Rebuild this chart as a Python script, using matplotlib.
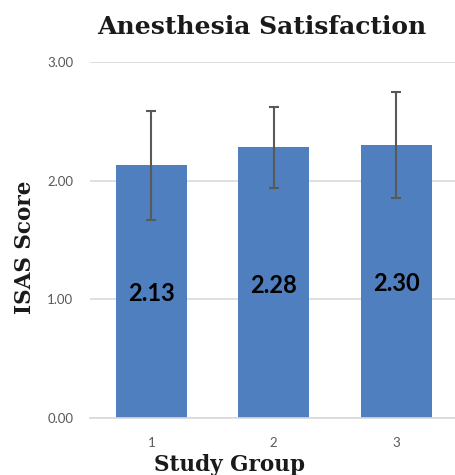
import matplotlib
matplotlib.use("Agg")
import matplotlib.pyplot as plt

groups = ["1", "2", "3"]
means = [2.13, 2.28, 2.30]
sds = [0.46, 0.34, 0.45]
value_labels = ["2.13", "2.28", "2.30"]
y_ticks = [0.0, 1.0, 2.0, 3.0]
y_tick_labels = ["0.00", "1.00", "2.00", "3.00"]

W, H = 455, 475
fig = plt.figure(figsize=(W / 100, H / 100), dpi=100)
ax = fig.add_axes([90 / W, (H - 418) / H, 367.5 / W, 356 / H])

x = list(range(len(groups)))
ax.bar(x, means, width=0.58, color="#4F7FBE", zorder=2)
ax.errorbar(x, means, yerr=sds, fmt="none", ecolor="#595959",
            elinewidth=1.5, capsize=3.5, capthick=1.5, zorder=3)

for xi, m, lab in zip(x, means, value_labels):
    ax.text(xi, m / 2 - 0.02, lab, ha="center", va="center",
            fontsize=17, fontweight="bold", color="black",
            family=["Lato", "DejaVu Sans"], zorder=4)

ax.set_xlim(-0.5, 2.5)
ax.set_ylim(0, 3)
ax.set_xticks(x)
ax.set_xticklabels(groups)
ax.set_yticks(y_ticks)
ax.set_yticklabels(y_tick_labels)
for lbl in ax.get_xticklabels() + ax.get_yticklabels():
    lbl.set_family(["Lato", "DejaVu Sans"])
    lbl.set_fontsize(9.5)
    lbl.set_color("#595959")
ax.tick_params(axis="both", length=0)
ax.tick_params(axis="y", pad=12)
ax.tick_params(axis="x", pad=14)

ax.yaxis.grid(True, color="#D9D9D9", linewidth=1.2, zorder=0)
ax.set_axisbelow(True)
for s in ["top", "right", "left"]:
    ax.spines[s].set_visible(False)
ax.spines["bottom"].set_color("#D9D9D9")
ax.spines["bottom"].set_linewidth(1.2)

serif = ["DejaVu Serif"]
fig.text(262 / W, 1 - 27 / H, "Anesthesia Satisfaction", ha="center", va="center",
         fontsize=18, fontweight="bold", family=serif, color="#1a1a1a")
fig.text(25 / W, 1 - 247 / H, "ISAS Score", ha="center", va="center", rotation=90,
         fontsize=15.5, fontweight="bold", family=serif, color="#1a1a1a")
fig.text(230 / W, 1 - 465 / H, "Study Group", ha="center", va="center",
         fontsize=15.5, fontweight="bold", family=serif, color="#1a1a1a")

fig.savefig("out.png", dpi=100, facecolor="white")
